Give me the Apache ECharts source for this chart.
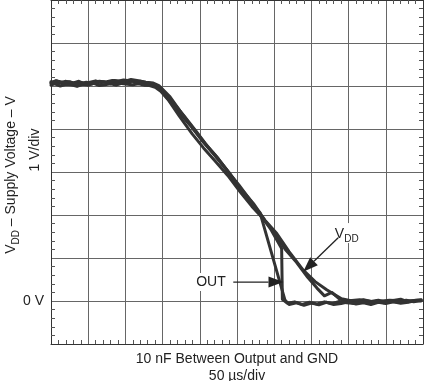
<!DOCTYPE html>
<html><head><meta charset="utf-8">
<script src="https://cdn.jsdelivr.net/npm/echarts@6/dist/echarts.min.js"></script>
<style>html,body{margin:0;padding:0;background:#fff}#c{width:427px;height:381px}</style>
</head><body><div id="c"></div>
<script>
// x in divisions (50 µs/div), y in volts (1 V/div)
const vddA_x = [0,0.15,0.3,0.45,0.6,0.75,0.9,1.05,1.2,1.35,1.5,1.65,1.8,1.95,2.1,2.25,2.4,2.55,2.7,2.85,3.06,3.38,3.74,4.05,4.36,4.72,5.06,5.44,5.75,6.07,6.4,6.78,7.1,7.41,7.81,8.0,8.2,8.4,8.6,8.8,9.0,9.2,9.4,9.6,9.8,9.95];
const vddA_y = [5.08,5.12,5.06,5.1,5.07,5.11,5.05,5.09,5.12,5.08,5.1,5.13,5.11,5.14,5.12,5.1,5.11,5.08,5.06,5.0,4.79,4.44,4.09,3.74,3.43,3.05,2.66,2.27,1.88,1.57,1.15,0.72,0.45,0.26,0.05,0.02,-0.02,0.03,-0.01,0.02,-0.03,0.01,0.04,-0.02,0.02,0.03];
const vddB_x = [0,0.1,0.25,0.4,0.55,0.7,0.85,1.0,1.15,1.3,1.45,1.6,1.75,1.9,2.05,2.2,2.35,2.5,2.65,2.8,2.95,3.15,3.45,3.8,4.1,4.4,4.75,5.1,5.4,5.7,6.0,6.3,6.6,6.9,7.15,7.35,7.55,7.75,7.95,8.3,8.7,9.1,9.5,9.95];
const vddB_y = [5.02,5.05,5.0,5.04,5.03,4.99,5.04,5.02,5.06,5.01,5.03,5.05,5.02,5.06,5.04,5.03,5.05,5.02,5.01,4.97,4.88,4.68,4.3,3.88,3.56,3.27,2.92,2.52,2.2,1.92,1.6,1.2,0.9,0.55,0.3,0.12,0.2,0.05,0.0,0.03,-0.02,0.02,0.0,0.02];
const outA_x = [0,0.2,0.4,0.6,0.8,1.0,1.2,1.4,1.6,1.8,2.0,2.2,2.4,2.6,2.8,3.0,3.3,3.6,3.9,4.2,4.5,4.8,5.1,5.4,5.62,6.29,6.4,6.6,6.8,7.0,7.2,7.4,7.6,7.8,8.0,8.2,8.4,8.6,8.8,9.0,9.2,9.4,9.6,9.8,9.95];
const outA_y = [5.1,5.06,5.11,5.04,5.08,5.03,5.07,5.1,5.05,5.08,5.06,5.12,5.08,5.05,5.02,4.9,4.6,4.28,3.95,3.6,3.3,2.97,2.6,2.25,2.05,0.02,-0.08,-0.04,-0.1,-0.05,-0.09,-0.03,-0.08,-0.06,-0.02,-0.07,-0.04,-0.08,-0.03,-0.06,-0.02,-0.05,-0.03,0.01,0.0];
const outB_x = [0,0.12,0.35,0.5,0.7,0.95,1.1,1.3,1.55,1.7,1.95,2.15,2.35,2.55,2.75,2.9,3.2,3.5,3.85,4.15,4.45,4.75,5.05,5.35,5.65,5.9,6.2,6.22,6.35,6.55,6.75,6.95,7.15,7.35,7.55,7.75,7.95,8.15,8.35,8.55,8.75,8.95,9.15,9.35,9.55,9.75,9.95];
const outB_y = [5.06,5.12,5.08,5.1,5.04,5.09,5.06,5.11,5.08,5.13,5.1,5.15,5.12,5.09,5.07,5.01,4.75,4.38,3.98,3.66,3.36,3.02,2.7,2.35,1.98,1.68,1.22,0.04,-0.05,-0.02,-0.08,-0.03,-0.07,-0.02,-0.06,-0.01,-0.04,-0.06,-0.02,-0.05,0.0,-0.04,-0.01,-0.03,0.02,-0.02,0.01];

// annotation anchors (data coords)
const outLabel = [4.3, 0.44];
const outArrow = [[4.9, 0.44], [6.25, 0.44]];
const vddLabel = [7.95, 1.58];
const vddArrow = [[7.72, 1.47], [6.78, 0.68]];

const xTitle = '10 nF Between Output and GND\n50 µs/div';
const yTitle = '{v|V}{s|DD}{v| – Supply Voltage – V}';
const yScale = '1 V/div';

const FONT = 'Liberation Sans, Arial, sans-serif';
const TRACE = '#333';
const zip = (xs, ys) => xs.map((x, i) => [x, ys[i]]);

const chart = echarts.init(document.getElementById('c'));
const minorTick = {show: true, splitNumber: 5, length: 4, lineStyle: {color: '#555', width: 1}};
const axisCommon = {
  type: 'value', interval: 1,
  axisLine: {show: true, onZero: false, lineStyle: {color: '#333', width: 1}},
  axisTick: {show: false, inside: true},
  minorTick: minorTick,
  minorSplitLine: {show: false}
};
const lineSeries = (d) => ({
  type: 'line', data: d, showSymbol: false, symbol: 'none',
  lineStyle: {color: TRACE, width: 3, join: 'round', cap: 'round'},
  animation: false, z: 5
});
const richSub = {
  v: {fontFamily: FONT, fontSize: 14, fill: '#222', lineHeight: 16, verticalAlign: 'bottom'},
  s: {fontFamily: FONT, fontSize: 10, fill: '#222', lineHeight: 10, verticalAlign: 'bottom', padding: [0, 0, -3, 0]}
};

chart.setOption({
  animation: false,
  grid: {left: 51, top: 0, width: 372, height: 344, containLabel: false, outerBoundsMode: 'none'},
  xAxis: [
    Object.assign({}, axisCommon, {
      min: 0, max: 10, position: 'bottom',
      axisLabel: {show: false},
      splitLine: {show: true, lineStyle: {color: '#666', width: 1}},
      name: xTitle, nameLocation: 'middle', nameGap: 7,
      nameTextStyle: {fontFamily: FONT, fontSize: 14, color: '#222', lineHeight: 17, verticalAlign: 'top'}
    }),
    Object.assign({}, axisCommon, {
      min: 0, max: 10, position: 'top',
      axisLabel: {show: false}, splitLine: {show: false}
    })
  ],
  yAxis: [
    Object.assign({}, axisCommon, {
      min: -1, max: 7, position: 'left',
      axisLabel: {show: true, margin: 7, fontFamily: FONT, fontSize: 14, color: '#222',
        formatter: v => (v === 0 ? '0 V' : '')},
      splitLine: {show: true, lineStyle: {color: '#666', width: 1}}
    }),
    Object.assign({}, axisCommon, {
      min: -1, max: 7, position: 'right',
      axisLabel: {show: false}, splitLine: {show: false}
    })
  ],
  series: [
    lineSeries(zip(vddA_x, vddA_y)),
    lineSeries(zip(vddB_x, vddB_y)),
    lineSeries(zip(outA_x, outA_y)),
    lineSeries(zip(outB_x, outB_y))
  ]
});

function arrow(p0, p1) {
  const a = chart.convertToPixel({gridIndex: 0}, p0);
  const b = chart.convertToPixel({gridIndex: 0}, p1);
  const dx = b[0] - a[0], dy = b[1] - a[1];
  const L = Math.hypot(dx, dy), ux = dx / L, uy = dy / L;
  const hl = 15, hw = 5.5;
  const base = [b[0] - ux * hl, b[1] - uy * hl];
  return [
    {type: 'line', shape: {x1: a[0], y1: a[1], x2: base[0], y2: base[1]},
     style: {stroke: '#222', lineWidth: 1.3}, z: 20},
    {type: 'polygon', shape: {points: [b, [base[0] - uy * hw, base[1] + ux * hw], [base[0] + uy * hw, base[1] - ux * hw]]},
     style: {fill: '#222'}, z: 20}
  ];
}
const oL = chart.convertToPixel({gridIndex: 0}, outLabel);
const vL = chart.convertToPixel({gridIndex: 0}, vddLabel);
chart.setOption({
  graphic: [
    {type: 'text', x: 10, y: 175, rotation: Math.PI / 2, z: 10,
     style: {text: yTitle, fontFamily: FONT, fontSize: 14, fill: '#222', align: 'center', verticalAlign: 'middle', rich: richSub}},
    {type: 'text', x: 35, y: 150, rotation: Math.PI / 2, z: 10,
     style: {text: yScale, fontFamily: FONT, fontSize: 14, fill: '#222', align: 'center', verticalAlign: 'middle'}},
    {type: 'text', x: oL[0], y: oL[1], z: 15,
     style: {text: 'OUT', fontFamily: FONT, fontSize: 14, fill: '#222', align: 'center', verticalAlign: 'middle',
       backgroundColor: '#fff', padding: [2, 3]}},
    {type: 'text', x: vL[0], y: vL[1], z: 15,
     style: {text: '{v|V}{s|DD}', fontFamily: FONT, fontSize: 14, align: 'center', verticalAlign: 'middle',
       backgroundColor: '#fff', padding: [2, 3], rich: richSub}}
  ].concat(arrow(outArrow[0], outArrow[1]), arrow(vddArrow[0], vddArrow[1]))
});
</script></body></html>
